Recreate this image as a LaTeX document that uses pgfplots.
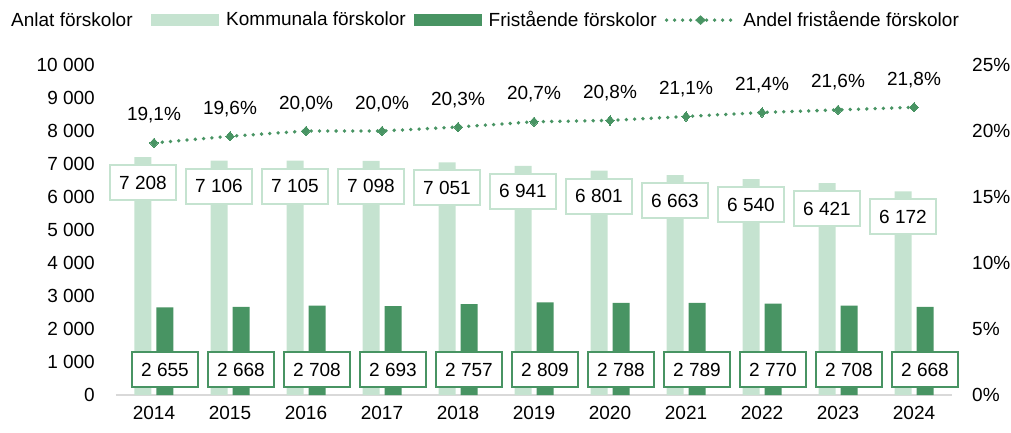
\documentclass[border=0pt]{standalone}
\usepackage{fontspec}
\setmainfont{Liberation Sans}
\usepackage{pgfplots}
\pgfplotsset{compat=1.18}
\usepackage{pgfplotstable}
\definecolor{lightg}{RGB}{197,227,208}
\definecolor{darkg}{RGB}{72,148,99}
\definecolor{axgray}{RGB}{217,217,217}

\pgfplotstableread{
x year kom fri andel
0 2014 7208 2655 19.1
1 2015 7106 2668 19.6
2 2016 7105 2708 20.0
3 2017 7098 2693 20.0
4 2018 7051 2757 20.3
5 2019 6941 2809 20.7
6 2020 6801 2788 20.8
7 2021 6663 2789 21.1
8 2022 6540 2770 21.4
9 2023 6421 2708 21.6
10 2024 6172 2668 21.8
}\data

\begin{document}
\fontsize{19}{22}\selectfont
\begin{tikzpicture}
\useasboundingbox (-116pt,-37pt) rectangle (895pt,395pt);
\begin{axis}[
  scale only axis, width=836pt, height=330pt,
  xmin=-0.5, xmax=10.5, ymin=0, ymax=10000,
  clip=false,
  scaled y ticks=false,
  axis x line*=bottom, axis y line*=left,
  x axis line style={draw=axgray, line width=1.5pt, -},
  y axis line style={draw=none},
  major tick length=0pt,
  xtick={0,...,10},
  xticklabels={2014,2015,2016,2017,2018,2019,2020,2021,2022,2023,2024},
  ytick={0,1000,...,10000},
  /pgf/number format/assume math mode=true,
  /pgf/number format/1000 sep={~},
  tick label style={font=\fontsize{19}{22}\selectfont, inner sep=0pt},
  xticklabel style={anchor=north, yshift=-11pt},
  yticklabel style={anchor=east, xshift=-21pt},
  legend style={at={(0.0419,1.136)}, anchor=west, draw=none, fill=none,
    inner sep=0pt, font=\fontsize{19}{22}\selectfont,
    /tikz/every odd column/.append style={column sep=5pt},
    /tikz/every even column/.append style={column sep=6pt}},
  legend columns=3,
]
\addplot[ybar, bar width=17pt, bar shift=-11pt, fill=lightg, draw=none,
  legend image code/.code={\fill[lightg] (0pt,-6pt) rectangle (68pt,6pt);}]
  table[x=x, y=kom]{\data};
\addlegendentry{Kommunala förskolor}
\addplot[ybar, bar width=17pt, bar shift=11pt, fill=darkg, draw=none,
  legend image code/.code={\fill[darkg] (0pt,-6pt) rectangle (68pt,6pt);}]
  table[x=x, y=fri]{\data};
\addlegendentry{Fristående förskolor}
\addlegendimage{legend image code/.code={
  \draw[darkg, line width=3.8pt, line cap=round, dash pattern=on 0pt off 8pt] (0pt,0pt) -- (68pt,0pt);
  \fill[darkg] (34pt,-4.5pt) -- (39pt,0pt) -- (34pt,4.5pt) -- (29pt,0pt) -- cycle;}}
\addlegendentry{Andel fristående förskolor}
% light labels
\addplot[forget plot, draw=none, mark=none, nodes near coords, point meta=explicit,
  every node near coord/.append style={anchor=north, yshift=-7pt, draw=lightg,
    line width=2pt, fill=white, text=black, minimum height=35pt, inner xsep=9pt,
    font=\fontsize{19}{22}\selectfont}]
  table[x expr=\thisrow{x}-0.1447, y=kom, meta=kom]{\data};
% dark labels
\addplot[forget plot, draw=none, mark=none, nodes near coords, point meta=explicit,
  every node near coord/.append style={anchor=center, draw=darkg,
    line width=2pt, fill=white, text=black, minimum height=35pt, inner xsep=9pt,
    font=\fontsize{19}{22}\selectfont}]
  table[x expr=\thisrow{x}+0.1447, y expr=773, meta=fri]{\data};
\node[anchor=west, inner sep=0pt] at (rel axis cs:-0.1256,1.136) {Anlat förskolor};
\end{axis}
\begin{axis}[
  scale only axis, width=836pt, height=330pt,
  xmin=-0.5, xmax=10.5, ymin=0, ymax=25,
  clip=false,
  axis x line=none, axis y line*=right,
  y axis line style={draw=none},
  major tick length=0pt,
  ytick={0,5,...,25},
  yticklabel={\pgfmathprintnumber{\tick}\%},
  /pgf/number format/assume math mode=true,
  tick label style={font=\fontsize{19}{22}\selectfont, inner sep=0pt},
  yticklabel style={anchor=west, xshift=20pt},
]
\addplot[darkg, line width=3.8pt, line cap=round, dash pattern=on 0pt off 8.3pt,
  mark=diamond*, mark size=5.5pt,
  mark options={solid, fill=darkg, draw=darkg, line width=0pt, yscale=0.85},
  nodes near coords={\pgfmathprintnumber[fixed, fixed zerofill, precision=1, use comma]{\pgfplotspointmeta}\%},
  point meta=explicit,
  every node near coord/.append style={anchor=base, yshift=22pt, text=black,
    font=\fontsize{19}{22}\selectfont}]
  table[x=x, y=andel, meta=andel]{\data};
\end{axis}
\end{tikzpicture}
\end{document}
